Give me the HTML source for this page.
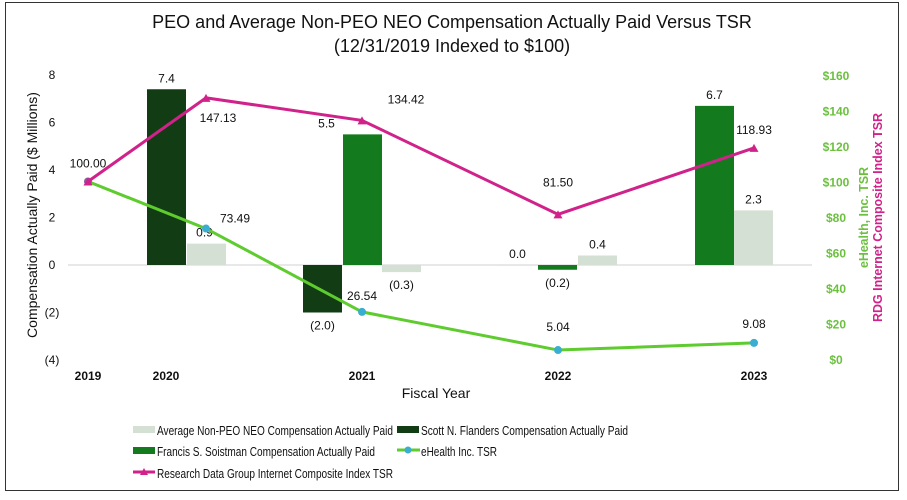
<!DOCTYPE html>
<html><head><meta charset="utf-8"><style>
html,body{margin:0;padding:0;background:#fff;}
svg{display:block;font-family:"Liberation Sans",Arial,sans-serif;}
</style></head><body>
<svg id="chart" width="907" height="500" viewBox="0 0 907 500" xmlns="http://www.w3.org/2000/svg">
<rect x="5.5" y="2.5" width="893" height="488" fill="#fff" stroke="#333" stroke-width="1"/>
<text x="452" y="28" text-anchor="middle" font-size="18" fill="#111">PEO and Average Non-PEO NEO Compensation Actually Paid Versus TSR</text>
<text x="452" y="52" text-anchor="middle" font-size="18" fill="#111">(12/31/2019 Indexed to $100)</text>
<g id="plot"></g>
<text transform="translate(37,215) rotate(-90)" text-anchor="middle" font-size="14" fill="#111">Compensation Actually Paid ($ Millions)</text>
<text x="436" y="398" text-anchor="middle" font-size="14" fill="#111">Fiscal Year</text>
<text transform="translate(868,268) rotate(-90)" text-anchor="start" font-size="12.5" font-weight="bold" fill="#6cc040" textLength="101" lengthAdjust="spacingAndGlyphs">eHealth, Inc. TSR</text>
<text transform="translate(882,322) rotate(-90)" text-anchor="start" font-size="12.5" font-weight="bold" fill="#d0228a" textLength="209" lengthAdjust="spacingAndGlyphs">RDG Internet Composite Index TSR</text>
<g id="legend" font-size="13" fill="#111">
<rect x="133" y="426" width="22" height="7" fill="#d3e0d3"/>
<text x="157" y="435" textLength="236" lengthAdjust="spacingAndGlyphs">Average Non-PEO NEO Compensation Actually Paid</text>
<rect x="397" y="426" width="22" height="7" fill="#123d14"/>
<text x="421" y="435" textLength="207" lengthAdjust="spacingAndGlyphs">Scott N. Flanders Compensation Actually Paid</text>
<rect x="133" y="447" width="22" height="7" fill="#137a1e"/>
<text x="157" y="456" textLength="218" lengthAdjust="spacingAndGlyphs">Francis S. Soistman Compensation Actually Paid</text>
<line x1="397" y1="450" x2="420" y2="450" stroke="#5ecb2e" stroke-width="3"/>
<circle cx="408" cy="450" r="3.5" fill="#3aaed0"/>
<text x="421" y="456" textLength="76" lengthAdjust="spacingAndGlyphs">eHealth Inc. TSR</text>
<line x1="133" y1="472" x2="155" y2="472" stroke="#d0228a" stroke-width="3"/>
<polygon points="144,468 148,475 140,475" fill="#d0228a"/>
<text x="157" y="478" textLength="236" lengthAdjust="spacingAndGlyphs">Research Data Group Internet Composite Index TSR</text>
</g>
</svg>
<script>
const years = ["2019","2020","2021","2022","2023"];
const avgComp = [null, 0.9, -0.3, 0.4, 2.3];
const flandersComp = [null, 7.4, -2.0, 0.0, null];
const soistmanComp = [null, null, 5.5, -0.2, 6.7];
const ehealthTSR = [100.00, 73.49, 26.54, 5.04, 9.08];
const rdgTSR = [100.00, 147.13, 134.42, 81.50, 118.93];
const leftTicks = [8, 6, 4, 2, 0, -2, -4];
const leftTickLabels = ["8","6","4","2","0","(2)","(4)"];
const rightTicks = [160, 140, 120, 100, 80, 60, 40, 20, 0];

// layout (not data)
const tickX = [88, 166, 362, 558, 754];
const flandersX = [null, 147, 303, 498, null];
const soistmanX = [null, null, 343, 538, 695];
const avgX = [null, 187, 382, 578, 734];
const lineX = [88, 206, 362, 558, 754];
const barW = 39;

const NS = "http://www.w3.org/2000/svg";
const plot = document.getElementById("plot");
const yL = v => 265 - v * 23.75;
const yR = v => 359 - v * 1.775;
function mk(tag, attrs, parent) {
  const e = document.createElementNS(NS, tag);
  for (const k in attrs) e.setAttribute(k, attrs[k]);
  (parent || plot).appendChild(e);
  return e;
}
function fmt(v) { return v < 0 ? "(" + Math.abs(v).toFixed(1) + ")" : v.toFixed(1); }

leftTicks.forEach((t, i) => {
  const e = mk("text", {x: 52, y: yL(t) + 4, "text-anchor": "middle", "font-size": 12, fill: "#111"});
  
  
  e.textContent = leftTickLabels[i];
});
rightTicks.forEach(t => {
  const e = mk("text", {x: 836, y: yR(t) + 5, "text-anchor": "middle", "font-size": 12, "font-weight": "bold", fill: "#6cc040"});
  
  
  e.textContent = "$" + t;
});
years.forEach((y, i) => {
  const e = mk("text", {x: tickX[i], y: 380, "text-anchor": "middle", "font-size": 12, "font-weight": "bold", fill: "#111"});
  
  
  e.textContent = y;
});
const zl = mk("line", {x1: 68, y1: yL(0), x2: 812, y2: yL(0), stroke: "#d0d0d0", "stroke-width": 1});



function bars(vals, xs, color, name, labelDx) {
  vals.forEach((v, i) => {
    if (v === null || xs[i] === null) return;
    const y0 = yL(0), y1 = yL(v);
    const r = mk("rect", {x: xs[i], y: Math.min(y0, y1), width: barW, height: Math.max(Math.abs(y1 - y0), 0.01), fill: color});
    
    
    const t = mk("text", {x: xs[i] + barW / 2 + (labelDx[i] || 0), y: v >= 0 ? y1 - 7 : y1 + 17, "text-anchor": "middle", "font-size": 12, fill: "#111"});
    
    
    t.textContent = fmt(v);
  });
}
bars(avgComp, avgX, "#d3e0d3", "average", [0, -2, 0, 0, 0]);
bars(flandersComp, flandersX, "#123d14", "flanders", [0, 0, 0, 0, 0]);
bars(soistmanComp, soistmanX, "#137a1e", "soistman", [0, 0, -36, 0, 0]);

function series(vals, ys, color, name, marker, labels) {
  const pts = vals.map((v, i) => lineX[i] + "," + ys(v)).join(" ");
  const p = mk("polyline", {points: pts, fill: "none", stroke: color, "stroke-width": 3});
  
  
  vals.forEach((v, i) => {
    const x = lineX[i], y = ys(v);
    let m;
    if (marker === "circle") m = mk("circle", {cx: x, cy: y, r: 4, fill: i === 0 ? "#8a5aa0" : "#3aaed0"});
    else m = mk("polygon", {points: `${x},${y - 4} ${x + 4.5},${y + 4} ${x - 4.5},${y + 4}`, fill: color});
    
    
    if (labels[i]) {
      const t = mk("text", {x: x + labels[i][0], y: y + labels[i][1], "text-anchor": "middle", "font-size": 12, fill: "#111"});
      
      
      t.textContent = v.toFixed(2);
    }
  });
}
series(ehealthTSR, yR, "#5ecb2e", "ehealth", "circle", [null, [29, -6], [0, -12], [0, -19], [0, -15]]);
series(rdgTSR, yR, "#d0228a", "rdg", "triangle", [[0, -14], [12, 24], [44, -17], [0, -28], [0, -14]]);
</script>
</body></html>
